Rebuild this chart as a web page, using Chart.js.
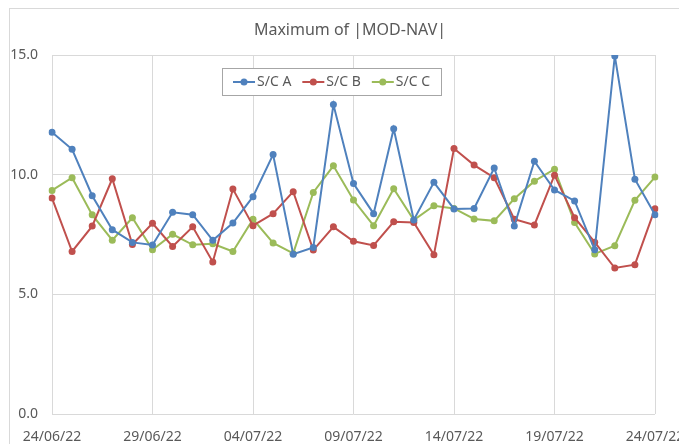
<!DOCTYPE html>
<html>
<head>
<meta charset="utf-8">
<script src="https://cdn.jsdelivr.net/npm/chart.js@4"></script>
<style>
  html, body { margin: 0; padding: 0; background: #fff; overflow: hidden; }
  #wrap { width: 679px; height: 444px; position: relative; }
</style>
</head>
<body>
<div id="wrap"><canvas id="grafico"></canvas></div>
<script>
const datas = ['24/06/22', '25/06/22', '26/06/22', '27/06/22', '28/06/22', '29/06/22', '30/06/22',
    '01/07/22', '02/07/22', '03/07/22', '04/07/22', '05/07/22', '06/07/22', '07/07/22', '08/07/22',
    '09/07/22', '10/07/22', '11/07/22', '12/07/22', '13/07/22', '14/07/22', '15/07/22', '16/07/22',
    '17/07/22', '18/07/22', '19/07/22', '20/07/22', '21/07/22', '22/07/22', '23/07/22', '24/07/22'];
const scA = [11.77, 11.06, 9.12, 7.70, 7.17, 7.06, 8.43, 8.33, 7.26, 7.98, 9.08, 10.84, 6.68, 6.96, 12.93,
    9.63, 8.37, 11.92, 8.11, 9.68, 8.57, 8.59, 10.28, 7.86, 10.56, 9.36, 8.90, 6.86, 14.96, 9.81, 8.33];
const scB = [9.02, 6.79, 7.85, 9.83, 7.08, 7.97, 7.00, 7.82, 6.35, 9.40, 7.87, 8.37, 9.29, 6.85, 7.82,
    7.22, 7.04, 8.03, 8.00, 6.65, 11.09, 10.40, 9.87, 8.14, 7.90, 9.98, 8.20, 7.18, 6.10, 6.24, 8.58];
const scC = [9.34, 9.87, 8.32, 7.26, 8.20, 6.86, 7.51, 7.07, 7.11, 6.79, 8.14, 7.15, 6.71, 9.26, 10.37,
    8.94, 7.87, 9.41, 8.10, 8.70, 8.59, 8.15, 8.07, 8.99, 9.73, 10.23, 8.00, 6.69, 7.03, 8.93, 9.90];
const nomes = ['S/C A', 'S/C B', 'S/C C'];
const yTicks = [0, 5, 10, 15];
const titulo = 'Maximum of |MOD-NAV|';

const cores = ['#4F81BD', '#C0504D', '#9BBB59'];
const cinza = '#595959';
const fonte = '"Noto Sans", sans-serif';

// moldura externa + título (centrado na moldura do Excel, não no canvas)
const moldura = {
    id: 'moldura',
    beforeDraw(chart) {
        const c = chart.ctx;
        c.save();
        c.fillStyle = '#fff';
        c.fillRect(0, 0, chart.width, chart.height);
        c.strokeStyle = '#d9d9d9';
        c.lineWidth = 1;
        c.strokeRect(9.5, 8.5, chart.width + 20, chart.height + 20);
        c.fillStyle = cinza;
        c.font = '16px ' + fonte;
        c.textAlign = 'center';
        c.textBaseline = 'middle';
        c.fillText(titulo, 350, 30);
        c.restore();
    }
};

// legenda com caixa, desenhada dentro da área do gráfico
const legendaCaixa = {
    id: 'legendaCaixa',
    afterDraw(chart) {
        const c = chart.ctx;
        const x0 = 222, y0 = 68, w = 219, h = 27;
        c.save();
        c.fillStyle = '#fff';
        c.fillRect(x0, y0, w, h);
        c.strokeStyle = '#a6a6a6';
        c.lineWidth = 1;
        c.strokeRect(x0 + 0.5, y0 + 0.5, w, h);
        c.font = '14px ' + fonte;
        c.textBaseline = 'middle';
        let x = x0 + 11;
        const yc = y0 + h / 2 + 0.5;
        chart.data.datasets.forEach(ds => {
            c.strokeStyle = ds.borderColor;
            c.lineWidth = 2;
            c.beginPath();
            c.moveTo(x, yc);
            c.lineTo(x + 22, yc);
            c.stroke();
            c.fillStyle = ds.borderColor;
            c.beginPath();
            c.arc(x + 11, yc, 3.5, 0, Math.PI * 2);
            c.fill();
            c.fillStyle = cinza;
            c.fillText(ds.label, x + 24, yc);
            x += 24 + c.measureText(ds.label).width + 11;
        });
        c.restore();
    }
};

const series = [scA, scB, scC].map((d, i) => ({
    label: nomes[i],
    data: d,
    borderColor: cores[i],
    backgroundColor: cores[i],
    borderWidth: 2,
    pointRadius: 3.5,
    pointHoverRadius: 3.5,
    pointBorderWidth: 0,
    tension: 0,
}));

new Chart(document.getElementById('grafico'), {
    type: 'line',
    data: {
        labels: datas,
        datasets: series
    },
    plugins: [moldura, legendaCaixa],
    options: {
        responsive: true,
        maintainAspectRatio: false,
        animation: false,
        layout: {
            padding: { left: 0, right: 24, top: 55, bottom: 0 }
        },
        plugins: {
            legend: { display: false },
            tooltip: { enabled: false },
            title: { display: false }
        },
        scales: {
            x: {
                offset: false,
                grid: { color: '#d9d9d9', drawTicks: false },
                border: { display: false },
                ticks: {
                    autoSkip: false,
                    maxRotation: 0,
                    padding: 15,
                    color: cinza,
                    font: { family: fonte, size: 14 },
                    callback: function (v, i) {
                        return i % 5 === 0 ? datas[i] : null;
                    }
                },
                afterFit: s => { s.height = 30; s.paddingLeft = 0; s.paddingRight = 0; }
            },
            y: {
                min: 0,
                max: 15,
                grid: { color: '#d9d9d9', drawTicks: false },
                border: { display: false },
                afterBuildTicks: s => { s.ticks = yTicks.map(v => ({ value: v })); },
                ticks: {
                    padding: 14,
                    color: cinza,
                    font: { family: fonte, size: 14 },
                    callback: v => v.toFixed(1)
                },
                afterFit: s => { s.width = 52; }
            }
        }
    }
});
</script>
</body>
</html>
